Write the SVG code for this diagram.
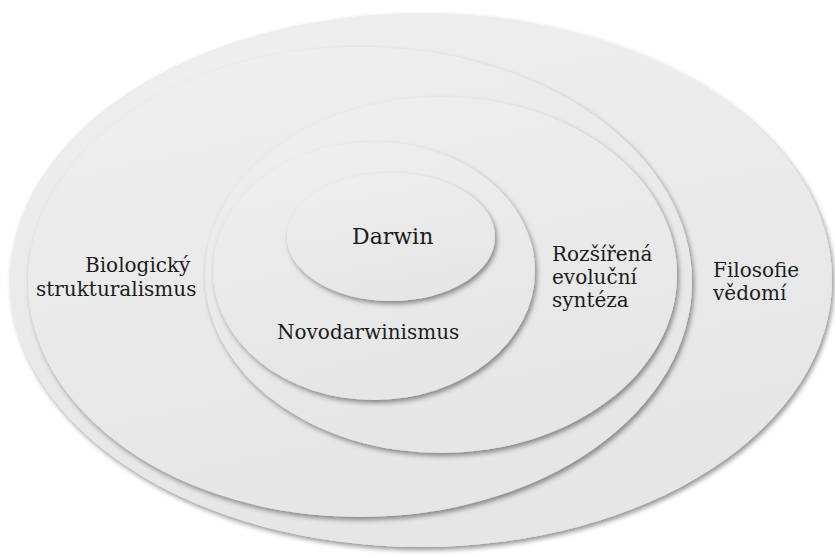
<svg xmlns="http://www.w3.org/2000/svg" width="835" height="557" viewBox="0 0 835 557">
  <defs>
    <linearGradient id="fillGrad" x1="0" y1="0" x2="0.3" y2="1">
      <stop offset="0" stop-color="#efefef"/>
      <stop offset="1" stop-color="#e6e6e6"/>
    </linearGradient>
    <filter id="shadow" x="-10%" y="-10%" width="120%" height="125%">
      <feGaussianBlur in="SourceAlpha" stdDeviation="2.6"/>
      <feOffset dx="1.5" dy="2.5" result="b"/>
      <feFlood flood-color="#000" flood-opacity="0.42"/>
      <feComposite in2="b" operator="in" result="s"/>
      <feMerge>
        <feMergeNode in="s"/>
        <feMergeNode in="SourceGraphic"/>
      </feMerge>
    </filter>
  </defs>
  <style>
    .ring { fill: url(#fillGrad); filter: url(#shadow); }
    .lbl { font-family: "DejaVu Serif", "Liberation Serif", serif; font-size: 20px; fill: #1c1c1c; }
  </style>
  <rect width="835" height="557" fill="#ffffff"/>
  <g id="connectors"/>
  <g id="node-filosofie">
    <ellipse class="ring" cx="421" cy="280" rx="411" ry="267"/>
    <text class="lbl" x="713" y="277">Filosofie</text>
    <text class="lbl" x="713" y="300">vědomí</text>
  </g>
  <g id="node-biologicky">
    <ellipse class="ring" cx="360" cy="282" rx="332" ry="235"/>
    <text class="lbl" x="85" y="272">Biologický</text>
    <text class="lbl" x="36" y="296">strukturalismus</text>
  </g>
  <g id="node-rozsirena">
    <ellipse class="ring" cx="441" cy="275" rx="236" ry="178"/>
    <text class="lbl" x="552" y="261">Rozšířená</text>
    <text class="lbl" x="552" y="284">evoluční</text>
    <text class="lbl" x="552" y="307">syntéza</text>
  </g>
  <g id="node-novodarwinismus">
    <ellipse class="ring" cx="374" cy="271" rx="161" ry="129"/>
    <text class="lbl" x="277" y="339">Novodarwinismus</text>
  </g>
  <g id="node-darwin">
    <ellipse class="ring" cx="391" cy="237" rx="104" ry="64"/>
    <text class="lbl" x="352" y="244" style="font-size:22px">Darwin</text>
  </g>
</svg>
